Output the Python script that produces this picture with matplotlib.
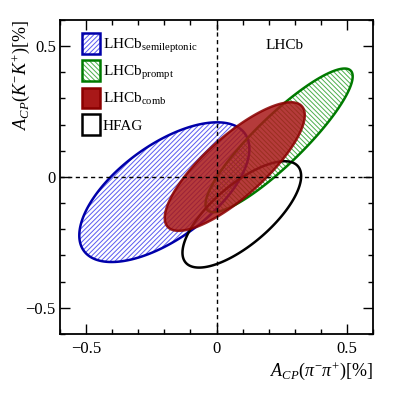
import numpy as np
import matplotlib
matplotlib.use('Agg')
import matplotlib.pyplot as plt
from matplotlib.patches import Polygon, Patch
from matplotlib.ticker import MultipleLocator, FuncFormatter

plt.rcParams['font.family'] = ['Liberation Serif', 'DejaVu Serif']
plt.rcParams['mathtext.fontset'] = 'custom'
plt.rcParams['mathtext.rm'] = 'Liberation Serif'
plt.rcParams['mathtext.it'] = 'Liberation Serif:italic'
plt.rcParams['mathtext.bf'] = 'Liberation Serif:bold'
plt.rcParams['hatch.linewidth'] = 0.7

# measurements: A_CP(pi pi), A_CP(K K) [%], total uncertainties and correlation
names = ['semileptonic', 'prompt', 'comb', 'HFAG']
acp_pipi = [-0.20, 0.24, 0.07, 0.097]
acp_kk = [-0.058, 0.14, 0.04, -0.143]
sig_pipi = [0.215, 0.186, 0.177, 0.150]
sig_kk = [0.176, 0.181, 0.162, 0.134]
rho = [0.62, 0.89, 0.80, 0.72]
# 68% CL contour in 2D
k = np.sqrt(2.30)


def contour(i):
    t = np.linspace(0, 2 * np.pi, 300)
    x = acp_pipi[i] + k * sig_pipi[i] * np.cos(t)
    y = acp_kk[i] + k * sig_kk[i] * (rho[i] * np.cos(t) + np.sqrt(1 - rho[i] ** 2) * np.sin(t))
    return np.column_stack([x, y])


def fmt(v, p):
    if abs(v) < 1e-9:
        return '0'
    return f'{v:g}'.replace('-', '\u2212')


blue_h, blue_e = '#5a5af0', '#0000aa'
green_h, green_e = '#4cae4c', '#007a00'
red_f, red_e = '#a81818', '#8a0000'
hatch_sl = '///////'
hatch_pr = '\\' * 7

fig = plt.figure(figsize=(3.94, 4.04), dpi=100)
ax = fig.add_axes([0.1523, 0.1733, 0.7944, 0.7772])

# semileptonic, blue hatched
ax.add_patch(Polygon(contour(0), closed=True, facecolor='none', edgecolor=blue_h, hatch=hatch_sl, lw=0, zorder=1))
ax.add_patch(Polygon(contour(0), closed=True, facecolor='none', edgecolor=blue_e, lw=1.8, zorder=2))
# prompt, green hatched
ax.add_patch(Polygon(contour(1), closed=True, facecolor='none', edgecolor=green_h, hatch=hatch_pr, lw=0, zorder=1))
ax.add_patch(Polygon(contour(1), closed=True, facecolor='none', edgecolor=green_e, lw=1.8, zorder=2))
# HFAG, black outline
ax.add_patch(Polygon(contour(3), closed=True, facecolor='none', edgecolor='black', lw=1.8, zorder=3))
# combination, red filled
ax.add_patch(Polygon(contour(2), closed=True, facecolor=red_f, edgecolor=red_e, lw=1.8, alpha=0.85, zorder=4))

ax.axvline(0, color='black', ls=(0, (3, 2.5)), lw=1, zorder=5)
ax.axhline(0, color='black', ls=(0, (3, 2.5)), lw=1, zorder=5)

ax.set_xlim(-0.6, 0.6)
ax.set_ylim(-0.6, 0.6)
ax.xaxis.set_major_locator(MultipleLocator(0.5))
ax.xaxis.set_minor_locator(MultipleLocator(0.1))
ax.yaxis.set_major_locator(MultipleLocator(0.5))
ax.yaxis.set_minor_locator(MultipleLocator(0.1))
ax.xaxis.set_major_formatter(FuncFormatter(fmt))
ax.yaxis.set_major_formatter(FuncFormatter(fmt))
ax.tick_params(which='both', direction='in', top=True, right=True, labelsize=12, width=1)
ax.tick_params(which='major', length=7.5)
ax.tick_params(which='minor', length=3.8)
ax.tick_params(axis='x', which='major', pad=5)
ax.tick_params(axis='y', which='major', pad=3)
for s in ax.spines.values():
    s.set_linewidth(1.3)

ax.set_xlabel(r'$A_{CP}(\pi^{-}\pi^{+})[\%]$', loc='right', fontsize=13, labelpad=2)
ax.set_ylabel(r'$A_{CP}(K^{-}K^{+})[\%]$', loc='top', fontsize=13)
ax.yaxis.set_label_coords(-0.09, 1.0)

ax.text(0.716, 0.92, 'LHCb', transform=ax.transAxes, ha='center', va='center', fontsize=11)

handles = [
    (Patch(facecolor='none', edgecolor=blue_h, hatch=hatch_sl, lw=0), Patch(facecolor='none', edgecolor=blue_e, lw=1.8)),
    (Patch(facecolor='none', edgecolor=green_h, hatch=hatch_pr, lw=0), Patch(facecolor='none', edgecolor=green_e, lw=1.8)),
    Patch(facecolor=red_f, edgecolor=red_e, lw=1.8),
    Patch(facecolor='none', edgecolor='black', lw=1.8),
]
labels = [r'LHCb$_{\rm semileptonic}$', r'LHCb$_{\rm prompt}$', r'LHCb$_{\rm comb}$', 'HFAG']
ax.legend(handles, labels, loc='upper left', bbox_to_anchor=(0.07, 0.958), frameon=False,
          fontsize=11, handlelength=1.18, handleheight=1.73, handletextpad=0.18,
          labelspacing=0.37, borderpad=0, borderaxespad=0)

fig.savefig('out.png', dpi=100)
